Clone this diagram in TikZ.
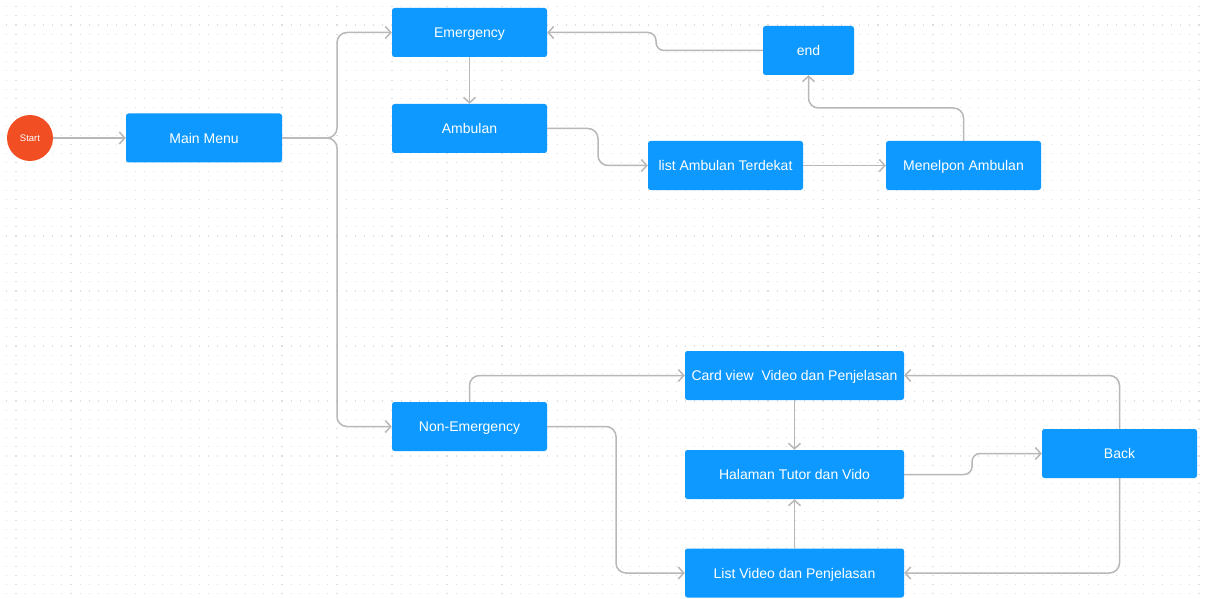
\documentclass[tikz,border=0pt]{standalone}
\usepackage{fontspec}
\setmainfont{Liberation Sans}
\usetikzlibrary{arrows.meta,calc}
\definecolor{boxblue}{RGB}{13,153,255}
\definecolor{startred}{RGB}{241,78,36}
\definecolor{conngray}{RGB}{184,184,184}
\definecolor{dotgray}{RGB}{222,222,222}
\tikzset{
  box/.style={rectangle, rounded corners=2.5pt, fill=boxblue, text=white,
    font=\fontsize{14}{16}\selectfont, minimum height=49pt, inner sep=0pt,
    text height=10pt, text depth=0pt},
  startnode/.style={circle, fill=startred, text=white, minimum size=46pt,
    inner sep=0pt, font=\fontsize{9.5}{11}\selectfont, text height=6.8pt, text depth=0pt},
  conn/.style={draw=conngray, line width=1.5pt, rounded corners=10pt,
    -{Straight Barb[length=5.5pt,width=12pt,line width=1.5pt]}},
  dotline/.style={draw=dotgray, line width=1.1pt, dash pattern=on 1.1pt off 8.07pt}
}
\begin{document}
\begin{tikzpicture}[x=1pt,y=-1pt]
\path[fill=white] (0,0) rectangle (1205,599);
\useasboundingbox (0,0) rectangle (1205,599);
\foreach \r in {0,...,64}{
  \draw[dotline] (6.3,{6.7+9.17*\r}) -- (1205,{6.7+9.17*\r});
}
% nodes
\node[startnode] (start) at (30,138) {Start};
\node[box, minimum width=156pt] (main) at (204,138) {Main Menu};
\node[box, minimum width=155pt] (emerg) at (469.5,32.5) {Emergency};
\node[box, minimum width=155pt] (amb) at (469.5,128.5) {Ambulan};
\node[box, minimum width=91pt] (end) at (808.5,50.5) {end};
\node[box, minimum width=155pt] (lat) at (725.5,165.5) {list Ambulan Terdekat};
\node[box, minimum width=155pt] (menel) at (963.5,165.5) {Menelpon Ambulan};
\node[box, minimum width=155pt] (nonem) at (469.5,426.5) {Non-Emergency};
\node[box, minimum width=219pt] (card) at (794.5,375.5) {Card view\ \ Video dan Penjelasan};
\node[box, minimum width=219pt] (hal) at (794.5,474.5) {Halaman Tutor dan Vido};
\node[box, minimum width=219pt] (list) at (794.5,573) {List Video dan Penjelasan};
\node[box, minimum width=155pt] (back) at (1119.5,453.5) {Back};
% connectors
\draw[conn] (start.east) -- (main.west);
\draw[conn] (main.east) -- (337,138) |- (emerg.west);
\draw[conn] (main.east) -- (337,138) |- (nonem.west);
\draw[conn] (emerg.south) -- (amb.north);
\draw[conn] (amb.east) -- (598,128.5) |- (lat.west);
\draw[conn] (lat.east) -- (menel.west);
\draw[conn] (menel.north) |- (808.5,108) -- (end.south);
\draw[conn, rounded corners=8pt] (end.west) -- (656,50.5) -- (656,32.5) -- (emerg.east);
\draw[conn] (nonem.north) |- (card.west);
\draw[conn] (nonem.east) -- (616,426.5) |- (list.west);
\draw[conn] (card.south) -- (hal.north);
\draw[conn] (list.north) -- (hal.south);
\draw[conn, rounded corners=8pt] (hal.east) -- (972,474.5) -- (972,453.5) -- (back.west);
\draw[conn] (back.north) |- (card.east);
\draw[conn] (back.south) |- (list.east);
\end{tikzpicture}
\end{document}
